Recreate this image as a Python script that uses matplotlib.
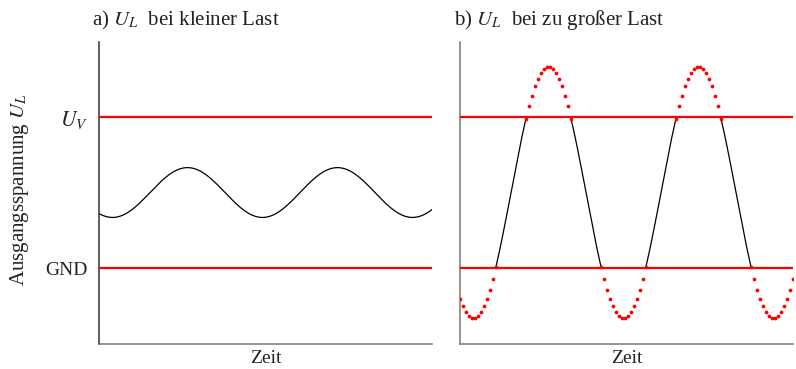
import numpy as np
import matplotlib.pyplot as plt

plt.rcParams['font.family'] = ['Liberation Serif', 'DejaVu Serif']
plt.rcParams['mathtext.fontset'] = 'stix'

# supply rails
u_gnd = 0.0
u_v = 1.0
level_ticks = [u_gnd, u_v]
level_labels = ['GND', '$U_V$']

# output signal: centre, amplitudes, period, phase of the trough
u_mid = 0.5
amp_small = 0.165
amp_large = 0.834
period = 1.0
trough_at = 0.09
t_end = 2.22

titles = ['a) $U_L$  bei kleiner Last', 'b) $U_L$  bei zu großer Last']

t_fine = np.linspace(0, t_end, 800)
t_dots = np.arange(0, t_end, period / 50)

FS = 14
TXT = '#222222'


def signal(t, amp):
    return u_mid - amp * np.cos(2 * np.pi * (t - trough_at) / period)


fig = plt.figure(figsize=(7.96, 3.69), dpi=100)
ax1 = fig.add_axes([0.1244, 0.0678, 0.4183, 0.8184])
ax2 = fig.add_axes([0.5779, 0.0678, 0.4183, 0.8184])

for ax in (ax1, ax2):
    ax.set_xlim(0, t_end)
    ax.set_ylim(-0.503, 1.497)
    for s in ('top', 'right'):
        ax.spines[s].set_visible(False)
    ax.spines['bottom'].set_color('#777777')
    ax.spines['left'].set_color('#777777')
    ax.spines['bottom'].set_linewidth(1.1)
    ax.spines['left'].set_linewidth(1.1)
    ax.set_xticks([])
    ax.set_xlabel('Zeit', fontsize=FS, labelpad=4, color=TXT)
    for lvl in level_ticks:
        ax.axhline(lvl, color='red', lw=1.6, zorder=3)

# a) small load: sine stays between the rails
ax1.plot(t_fine, signal(t_fine, amp_small), color='black', lw=0.9)
ax1.spines['left'].set_color('#333333')
ax1.set_yticks(level_ticks)
ax1.set_yticklabels(level_labels, fontsize=FS, color=TXT)
ax1.get_yticklabels()[1].set_fontsize(15.5)
ax1.tick_params(axis='y', length=0, pad=8)
ax1.set_ylabel('Ausgangsspannung $U_L$', fontsize=15, color=TXT)
ax1.yaxis.set_label_coords(-0.205, 0.51)

# b) large load: output clipped at the rails, ideal signal dotted
ax2.plot(t_fine, np.clip(signal(t_fine, amp_large), u_gnd, u_v), color='black', lw=0.9)
u_dots = signal(t_dots, amp_large)
outside = (u_dots >= u_v - 0.01) | (u_dots <= u_gnd + 0.01)
ax2.plot(t_dots[outside], u_dots[outside], 'o', color='red', ms=2.7, mec='none', zorder=4)
ax2.set_yticks([])

fig.text(92 / 796, 1 - 25 / 369, titles[0], fontsize=15, color=TXT)
fig.text(454 / 796, 1 - 25 / 369, titles[1], fontsize=15, color=TXT)

fig.savefig('out.png', dpi=100)
